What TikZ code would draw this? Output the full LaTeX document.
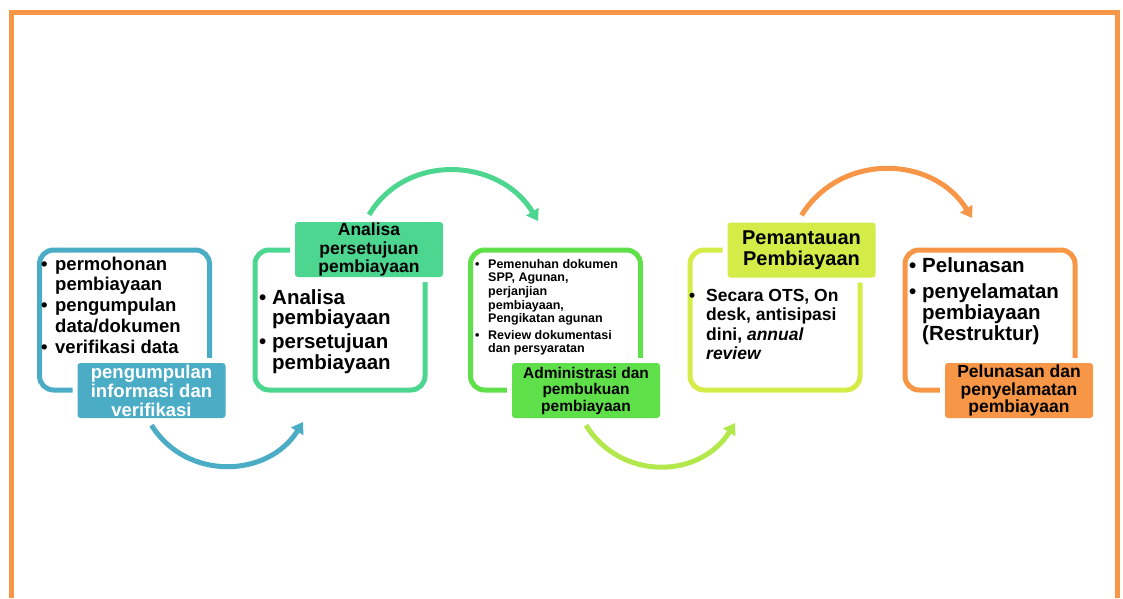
\documentclass[tikz,border=0pt]{standalone}
\usepackage{fontspec}
\setmainfont{Liberation Sans}
\usetikzlibrary{arrows.meta}
\definecolor{cBlue}{HTML}{4BACC6}
\definecolor{cTeal}{HTML}{4CD68F}
\definecolor{cGreen}{HTML}{5FE04A}
\definecolor{cLime}{HTML}{B2E84C}
\definecolor{cYellow}{HTML}{D4EC48}
\definecolor{cOrange}{HTML}{F79646}
% bullet set in a fixed-width column, and the matching hanging indent
\newcommand\bul[1]{\makebox[#1][l]{\textbullet}}
\newcommand\hang[1]{\hspace*{#1}}
\begin{document}
\begin{tikzpicture}[x=1pt,y=-1pt,
  stage/.style={draw=#1, line width=5pt, rounded corners=14pt,
    minimum width=170pt, minimum height=140pt, inner sep=0pt},
  tag/.style={fill=#1, rounded corners=3pt, minimum width=148pt,
    minimum height=55pt, inner sep=0pt, align=center,
    preaction={draw=white, line width=10pt}},
  list/.style={anchor=north west, inner sep=0pt, align=left, text=black},
  flow/.style={line width=5pt, draw=#1, -{Triangle[length=11pt,width=14pt]}},
]
\useasboundingbox (0,0) rectangle (1123,598);

% outer frame, open at the bottom edge
\draw[cOrange, line width=5pt] (11.5,598) -- (11.5,12) -- (1117,12) -- (1117,598);

% stage outlines
\node[stage=cBlue]   (s1) at (124.5,320) {};
\node[stage=cTeal]   (s2) at (340,320)   {};
\node[stage=cGreen]  (s3) at (555.5,320) {};
\node[stage=cYellow] (s4) at (775,320)   {};
\node[stage=cOrange] (s5) at (990,320)   {};

% stage titles
\node[tag=cBlue, text=white, font=\fontsize{18.5}{19}\selectfont\bfseries] (t1) at (151.5,390.5)
  {pengumpulan\\informasi dan\\verifikasi};
\node[tag=cTeal, font=\fontsize{17.5}{18.5}\selectfont\bfseries] (t2) at (369,249.5)
  {Analisa\\persetujuan\\pembiayaan};
\node[tag=cGreen, font=\fontsize{15.5}{16.5}\selectfont\bfseries] (t3) at (586,390.5)
  {Administrasi dan\\pembukuan\\pembiayaan};
\node[tag=cYellow, font=\fontsize{20}{20.5}\selectfont\bfseries] (t4) at (801.5,250)
  {Pemantauan\\Pembiayaan};
\node[tag=cOrange, font=\fontsize{17.5}{17.5}\selectfont\bfseries] (t5) at (1019,390.5)
  {Pelunasan dan\\penyelamatan\\pembiayaan};

% stage contents
\node[list, font=\fontsize{18.5}{20.8}\selectfont\bfseries] (l1) at (41,256.5)
  {\bul{14pt}permohonan\\\hang{14pt}pembiayaan\\\bul{14pt}pengumpulan\\\hang{14pt}data/dokumen\\\bul{14pt}verifikasi data};
\node[list, font=\fontsize{20.5}{20.5}\selectfont\bfseries] (l2) at (259,289)
  {\bul{13pt}Analisa\\\hang{13pt}pembiayaan\\[3.5pt]\bul{13pt}persetujuan\\\hang{13pt}pembiayaan};
\node[list, font=\fontsize{12.5}{13.6}\selectfont\bfseries] (l3) at (475,259)
  {\bul{13pt}Pemenuhan dokumen\\\hang{13pt}SPP, Agunan,\\\hang{13pt}perjanjian\\\hang{13pt}pembiayaan,\\\hang{13pt}Pengikatan agunan\\[3pt]\bul{13pt}Review dokumentasi\\\hang{13pt}dan persyaratan};
\node[list, font=\fontsize{17.5}{19.5}\selectfont\bfseries] (l4) at (689,289)
  {\bul{17pt}Secara OTS, On\\\hang{17pt}desk, antisipasi\\\hang{17pt}dini, \textit{annual}\\\hang{17pt}\textit{review}};
\node[list, font=\fontsize{20.5}{21}\selectfont\bfseries] (l5) at (909,257)
  {\bul{13pt}Pelunasan\\[5pt]\bul{13pt}penyelamatan\\\hang{13pt}pembiayaan\\\hang{13pt}(Restruktur)};

% arrow ends
\coordinate (e1) at (303,422);
\coordinate (e2) at (538,221);
\coordinate (e3) at (735,423);
\coordinate (e4) at (972,218);

% flow arrows between stages
\draw[flow=cBlue]   ([yshift=-7pt]t1.south) .. controls +(35,56) and +(-35,56) .. (e1);
\draw[flow=cTeal]   ([yshift=7pt]t2.north) .. controls +(38,-63) and +(-38,-63) .. (e2);
\draw[flow=cLime]   ([yshift=-7pt]t3.south) .. controls +(35,56) and +(-35,56) .. (e3);
\draw[flow=cOrange] ([yshift=7pt]t4.north) .. controls +(39,-63) and +(-39,-63) .. (e4);
\end{tikzpicture}
\end{document}
